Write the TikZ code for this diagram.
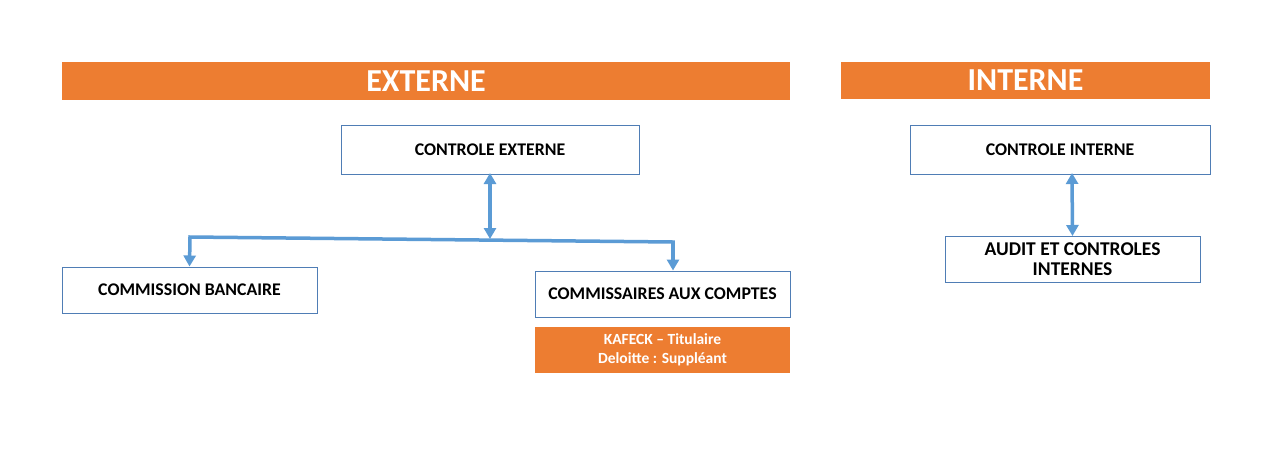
\documentclass[tikz,border=0pt]{standalone}
\usepackage{fontspec}
\setmainfont{Carlito}
\usetikzlibrary{arrows.meta}
\definecolor{orng}{HTML}{ED7D31}
\definecolor{bordr}{HTML}{4F7DB5}
\definecolor{arrw}{HTML}{5B9BD5}
\tikzset{
  banner/.style={fill=orng, draw=none, text=white, font=\bfseries\fontsize{32}{34}\selectfont, inner sep=0pt},
  box/.style={draw=bordr, line width=1pt, fill=white, font=\bfseries\fontsize{17.8}{19}\selectfont, align=center, inner sep=0pt},
  bigbox/.style={box, font=\bfseries\fontsize{19.5}{19.5}\selectfont},
  sub/.style={fill=orng, draw=none, text=white, font=\bfseries\fontsize{15.5}{19}\selectfont, align=center, inner sep=0pt},
  conn/.style={draw=arrw, line width=3.5pt},
  tip/.style={-{Triangle[length=11pt,width=12pt]}},
  dtip/.style={{Triangle[length=11pt,width=12pt]}-{Triangle[length=11pt,width=12pt]}}
}
\begin{document}
\begin{tikzpicture}[x=1pt,y=-1pt]
\useasboundingbox (0,0) rectangle (1284,448);
\fill[white] (0,0) rectangle (1284,448);
% banners
\node[banner, minimum width=728, minimum height=38] (ext) at (426,81) {EXTERNE};
\node[banner, minimum width=369, minimum height=37] (int) at (1025.5,80.5) {INTERNE};
% boxes
\node[box, minimum width=298, minimum height=49] (ce) at (490,149.5) {CONTROLE EXTERNE};
\node[box, minimum width=255, minimum height=46] (cb) at (189.5,290) {COMMISSION BANCAIRE};
\node[box, minimum width=255, minimum height=46] (ca) at (662.5,294) {COMMISSAIRES AUX COMPTES};
\node[sub, minimum width=255, minimum height=46] (kf) at (662.5,350) {KAFECK – Titulaire\\Deloitte : Suppléant};
\node[box, minimum width=300, minimum height=49] (ci) at (1060,149.5) {CONTROLE INTERNE};
\node[bigbox, minimum width=255, minimum height=46] (au) at (1072.5,259) {AUDIT ET CONTROLES\\INTERNES};
% connectors
\coordinate (mj) at (490,239);
\coordinate (lj) at (190,237);
\coordinate (rj) at (673,242);
\draw[conn, dtip] ([yshift=1.5pt]ce.south) -- (mj);
\draw[conn, line cap=rect] (lj) -- (rj);
\draw[conn, tip] (lj) -- (cb.north);
\draw[conn, tip] (rj) -- ([xshift=10.5pt]ca.north);
\draw[conn, dtip] ([xshift=12pt,yshift=1.5pt]ci.south) -- ([yshift=-0.5pt]au.north);
\end{tikzpicture}
\end{document}
